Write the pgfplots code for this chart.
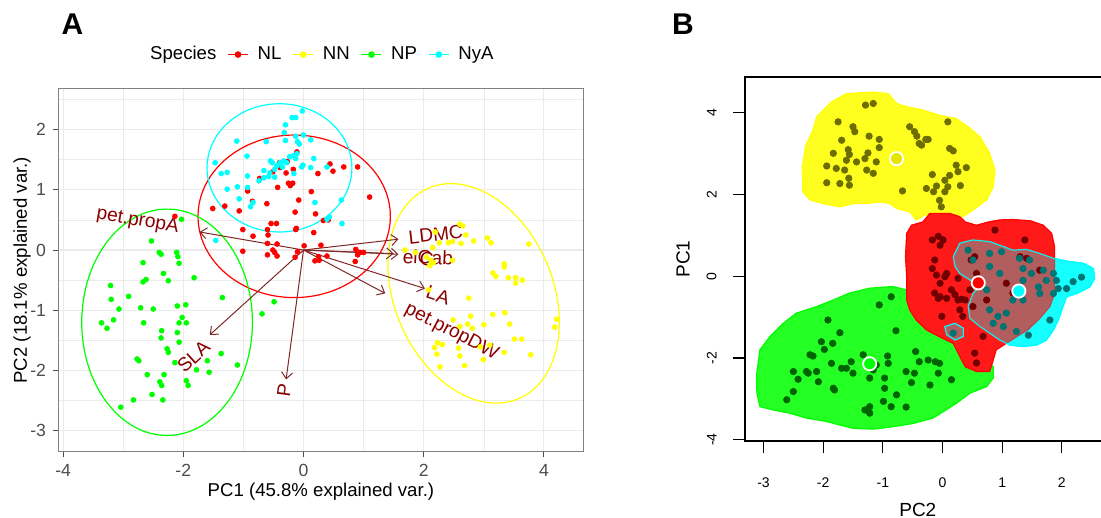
\documentclass[border=0pt]{standalone}
\usepackage{pgfplots}
\pgfplotsset{compat=1.18}
\usepackage{pgfplotstable}
\usepackage{fontspec}
\setmainfont{Liberation Sans}
\usetikzlibrary{arrows.meta}

\definecolor{arrowcol}{RGB}{128,40,40}
\definecolor{labcol}{RGB}{139,0,0}
\definecolor{cNL}{RGB}{255,0,0}
\definecolor{cNN}{RGB}{255,255,0}
\definecolor{cNP}{RGB}{0,255,0}
\definecolor{cNyA}{RGB}{0,255,255}
\definecolor{dNL}{RGB}{115,0,0}
\definecolor{dNN}{RGB}{110,110,0}
\definecolor{dNP}{RGB}{0,100,0}
\definecolor{dNyA}{RGB}{0,115,115}
\definecolor{gridcol}{RGB}{235,235,235}
\definecolor{tickcol}{RGB}{77,77,77}
\definecolor{framecol}{RGB}{128,128,128}

% ---------- Panel A data (PC1, PC2) ----------
\pgfplotstableread{
x y
0.44 1.43
0.49 1.31
0.67 1.38
0.90 1.38
1.10 0.88
0.24 1.27
0.13 0.97
-0.08 0.83
-0.14 0.63
0.20 0.60
0.17 0.29
-0.12 0.36
-0.13 0.34
-0.61 0.77
-0.93 0.98
-0.85 0.81
-1.07 0.65
-1.31 0.73
-1.51 0.69
-0.73 1.19
-0.51 1.30
-0.40 1.45
-0.27 1.47
-0.43 1.04
-0.25 1.11
-0.22 1.07
-0.18 1.11
-0.17 1.34
-0.39 1.37
-0.29 1.28
-0.11 1.63
-1.01 0.34
-0.84 0.23
-0.60 0.34
-0.59 0.25
-0.54 0.44
-0.45 0.44
0.33 0.49
0.41 0.50
-1.01 -0.02
-0.60 0.11
-0.44 0.10
-0.60 -0.08
-0.51 0.00
-0.48 -0.04
-0.44 -0.10
-0.10 -0.03
-0.14 -0.12
0.01 0.07
0.29 0.08
0.39 -0.10
0.25 -0.11
0.19 -0.18
0.26 -0.17
0.87 0.01
0.94 -0.04
1.00 -0.04
0.90 -0.08
0.86 -0.19
-2.14 0.56
}\NLtab

\pgfplotstableread{
x y
2.60 0.43
2.65 0.40
2.70 0.25
2.19 0.30
2.26 0.12
2.41 0.12
2.48 0.14
2.62 0.11
2.83 0.15
3.06 0.20
3.12 0.12
3.75 0.10
1.69 0.00
1.86 -0.04
2.15 0.04
2.05 -0.12
2.12 -0.17
2.16 -0.21
2.10 -0.26
2.48 -0.17
3.34 -0.23
3.34 -0.28
3.15 -0.38
3.20 -0.44
3.41 -0.46
3.53 -0.46
3.53 -0.55
3.64 -0.50
2.08 -0.66
2.75 -0.80
2.49 -1.16
2.78 -1.10
3.15 -1.07
3.35 -1.04
2.60 -1.27
2.73 -1.23
2.81 -1.30
3.00 -1.24
3.43 -1.23
4.21 -1.15
4.18 -1.28
2.23 -1.54
2.31 -1.57
2.18 -1.62
2.58 -1.63
2.94 -1.61
3.10 -1.58
3.51 -1.48
3.63 -1.48
2.22 -1.73
2.60 -1.76
2.99 -1.82
3.34 -1.70
3.78 -1.74
2.27 -1.94
2.68 -1.92
}\NNtab

\pgfplotstableread{
x y
-2.03 0.51
-2.53 0.15
-2.40 -0.04
-2.37 -0.07
-2.11 -0.04
-2.09 -0.11
-2.07 -0.22
-2.67 -0.21
-1.82 -0.46
-2.33 -0.39
-2.25 -0.51
-2.62 -0.49
-2.67 -0.53
-3.21 -0.59
-3.20 -0.82
-2.91 -0.77
-3.07 -0.98
-2.71 -0.96
-2.50 -0.98
-2.10 -0.93
-1.96 -0.91
-1.35 -0.79
-0.49 -0.86
-0.69 -1.06
-3.36 -1.21
-3.16 -1.16
-3.27 -1.30
-2.66 -1.21
-2.36 -1.34
-2.02 -1.12
-2.07 -1.21
-1.95 -1.21
-2.37 -1.46
-2.10 -1.37
-2.07 -1.53
-2.27 -1.64
-2.25 -1.70
-2.77 -1.81
-2.74 -1.84
-2.14 -1.87
-1.78 -1.99
-1.60 -1.84
-1.37 -1.72
-1.10 -1.91
-1.57 -2.03
-2.60 -2.07
-2.32 -2.07
-2.39 -2.19
-2.36 -2.25
-1.95 -2.17
-1.92 -2.25
-2.52 -2.40
-2.34 -2.49
-2.83 -2.49
-3.04 -2.61
}\NPtab

\pgfplotstableread{
x y
-0.02 2.31
-0.19 2.20
-0.13 2.20
-0.30 2.08
-0.32 1.95
-0.13 1.89
0.00 1.91
0.12 1.83
-0.30 1.82
-0.10 1.80
-0.07 1.76
-0.62 1.80
-1.11 1.81
-0.11 1.60
-0.16 1.57
-0.23 1.55
-0.13 1.52
-0.33 1.48
-0.28 1.45
-0.55 1.48
-0.52 1.45
-0.39 1.45
-0.44 1.40
-0.35 1.38
-0.48 1.34
-0.66 1.32
-0.58 1.22
-0.66 1.20
-0.48 1.21
-0.56 1.28
-0.74 1.15
-0.16 1.27
-0.01 1.41
-0.03 1.38
0.12 1.37
0.17 1.52
0.39 1.38
-1.47 1.45
-1.37 1.27
-1.27 1.29
-0.94 1.56
-0.93 1.23
-1.10 1.05
-1.27 1.01
-0.93 1.04
-1.07 0.85
-0.84 0.79
-0.88 0.72
0.19 0.79
0.63 0.83
0.43 0.55
0.39 0.51
0.64 0.44
-1.46 0.16
}\NyAtab

% ---------- Panel B data (PC2, PC1) ----------
\pgfplotstableread{
x y
-1.29 4.19
-1.16 4.23
-1.75 3.78
-1.50 3.66
-1.47 3.54
-1.69 3.33
-1.83 3.01
-1.94 2.70
-1.94 2.29
-1.78 2.64
-1.72 2.27
-1.64 2.60
-1.61 2.84
-1.58 3.10
-1.56 2.98
-1.57 2.40
-1.56 2.23
-1.44 2.80
-1.30 2.88
-1.25 3.02
-1.23 3.43
-1.06 3.35
-1.11 2.80
-1.06 3.15
-1.27 2.60
-1.16 2.52
-0.55 3.66
-0.47 3.54
-0.43 3.43
-0.39 3.25
-0.28 3.35
-0.24 3.35
0.09 3.78
0.12 3.13
0.18 3.07
0.23 2.72
0.26 2.56
0.40 2.66
-0.17 2.49
0.04 2.35
-0.10 2.21
-0.27 2.15
0.09 2.19
0.12 2.47
0.04 2.07
-0.05 1.86
-0.02 1.70
0.30 2.22
-0.67 2.09
-0.15 2.07
-0.35 3.21
}\NNb

\pgfplotstableread{
x y
-0.17 0.89
-0.07 0.98
0.01 0.89
-0.04 0.76
-0.13 0.40
-0.17 0.19
-0.10 0.03
-0.04 -0.17
0.04 -0.01
0.07 0.07
-0.13 -0.41
-0.04 -0.50
-0.07 -0.54
0.07 -0.54
0.15 -0.33
0.21 -0.45
0.26 -0.58
0.32 -0.56
0.38 -0.58
0.29 -0.82
-0.01 -0.98
0.34 -0.98
0.51 -0.74
0.46 -0.33
0.48 0.40
0.54 0.48
0.88 1.13
1.38 0.89
1.30 0.48
1.41 0.44
0.74 -0.58
1.07 -0.17
1.18 -0.41
1.63 0.15
0.68 -1.47
0.54 -1.88
0.57 -2.12
0.26 -0.05
0.57 0.07
}\NLb

\pgfplotstableread{
x y
-0.86 -0.50
-1.06 -0.70
-1.92 -1.07
-1.72 -1.38
-2.03 -1.60
-1.84 -1.64
-2.22 -1.92
-2.17 -1.95
-1.98 -1.79
-1.53 -2.09
-1.33 -1.92
-0.92 -1.95
-0.78 -1.33
-0.91 -2.13
-0.45 -1.84
-0.39 -2.09
-0.24 -2.05
-0.12 -2.09
-0.05 -2.13
-0.07 -2.37
-0.21 -2.66
0.15 -2.53
-0.52 -2.60
-1.11 -2.17
-1.16 -2.29
-1.22 -2.49
-0.97 -2.49
-0.97 -2.74
-0.77 -2.90
-0.86 -3.19
-0.61 -3.20
-1.22 -3.19
-1.30 -3.27
-1.22 -3.35
-0.99 -3.06
-1.50 -2.37
-1.61 -2.25
-1.69 -2.25
-1.86 -2.13
-2.11 -2.33
-2.28 -2.33
-2.25 -2.37
-2.50 -2.33
-2.42 -2.52
-2.50 -2.82
-2.61 -3.02
-1.83 -2.74
-1.81 -2.78
-2.08 -2.58
-0.61 -2.33
-0.47 -2.37
}\NPb

\pgfplotstableread{
x y
0.43 0.64
0.51 0.40
0.79 0.56
0.99 0.60
0.79 0.24
1.29 0.44
1.46 0.40
1.35 0.19
1.49 0.07
1.69 0.15
1.86 0.07
1.91 -0.10
1.74 -0.10
1.61 -0.26
1.94 -0.30
2.08 -0.30
2.19 -0.13
2.33 -0.02
1.86 -0.42
1.80 -1.07
1.44 -1.44
1.24 -1.35
1.07 -0.90
0.93 -0.98
0.79 -0.82
0.85 -1.15
1.02 -1.23
0.74 -0.33
1.18 -0.58
1.35 -0.58
0.18 -1.39
0.96 0.07
1.35 -0.10
1.63 -0.42
}\NyAb

\begin{document}
\begin{tikzpicture}[x=1pt,y=1pt]
% ================= Panel A =================
\begin{axis}[
  at={(29.15pt,33.15pt)}, anchor=south west,
  scale only axis, width=262.65pt, height=181.5pt,
  xmin=-4.08, xmax=4.66, ymin=-3.35, ymax=2.68,
  xtick={-4,-2,0,2,4}, ytick={-3,-2,-1,0,1,2},
  minor xtick={-3,-1,1,3}, minor ytick={-2.5,-1.5,-0.5,0.5,1.5,2.5},
  grid=both,
  major grid style={gridcol, line width=0.55pt},
  minor grid style={gridcol, line width=0.3pt},
  axis line style={framecol, line width=0.6pt},
  tick align=outside, tick pos=left,
  major tick length=2.6pt, minor tick length=0pt,
  every tick/.style={tickcol, line width=0.5pt},
  /pgf/number format/assume math mode=true,
  tick label style={text=tickcol, font=\fontsize{8.8}{10}\selectfont},
  xlabel={PC1 (45.8\% explained var.)},
  ylabel={PC2 (18.1\% explained var.)},
  label style={font=\fontsize{9.3}{11}\selectfont},
  xlabel style={at={(axis description cs:0.5,-0.111)}, anchor=center},
  ylabel style={at={(axis description cs:-0.0691,0.5)}, anchor=center},
  legend style={at={(axis description cs:0.497,1.094)}, anchor=center,
    draw=none, fill=none, legend columns=-1,
    font=\fontsize{9.3}{11}\selectfont,
    /tikz/every odd column/.append style={column sep=2.5pt},
    /tikz/every even column/.append style={column sep=3.5pt}},
  legend image code/.code={\draw[mark repeat=2,mark phase=2,#1] plot coordinates {(0pt,0pt) (5pt,0pt) (10pt,0pt)};},
]
\addlegendimage{empty legend}\addlegendentry{Species}
\addlegendimage{cNL, line width=0.7pt, mark=*, mark size=1.3pt}\addlegendentry{NL}
\addlegendimage{cNN, line width=0.7pt, mark=*, mark size=1.3pt}\addlegendentry{NN}
\addlegendimage{cNP, line width=0.7pt, mark=*, mark size=1.3pt}\addlegendentry{NP}
\addlegendimage{cNyA, line width=0.7pt, mark=*, mark size=1.3pt}\addlegendentry{NyA}

\addplot[only marks, mark=*, mark size=1.2pt, color=cNL, forget plot] table {\NLtab};
\addplot[only marks, mark=*, mark size=1.2pt, color=cNN, forget plot] table {\NNtab};
\addplot[only marks, mark=*, mark size=1.2pt, color=cNP, forget plot] table {\NPtab};
\addplot[only marks, mark=*, mark size=1.2pt, color=cNyA, forget plot] table {\NyAtab};

% ellipses
\draw[cNL, line width=0.6pt] (axis cs:-0.155,0.56) ellipse [x radius=1.60, y radius=1.35];
\draw[cNyA, line width=0.6pt] (axis cs:-0.40,1.365) ellipse [x radius=1.205, y radius=1.065];
\draw[cNP, line width=0.6pt] (axis cs:-2.27,-1.20) ellipse [x radius=1.42, y radius=1.88];
\draw[cNN, line width=0.6pt, rotate around={-66.7:(axis cs:2.83,-0.72)}] (axis cs:2.83,-0.72) ellipse [x radius=1.905, y radius=1.316];

% arrows
\addplot[arrowcol, line width=0.5pt, -{Straight Barb[length=3.2pt,width=5.5pt]}, forget plot] coordinates {(0,0) (-1.73,0.30)};
\addplot[arrowcol, line width=0.5pt, -{Straight Barb[length=3.2pt,width=5.5pt]}, forget plot] coordinates {(0,0) (1.58,0.18)};
\addplot[arrowcol, line width=0.5pt, -{Straight Barb[length=3.2pt,width=5.5pt]}, forget plot] coordinates {(0,0) (1.58,-0.07)};
\addplot[arrowcol, line width=0.5pt, -{Straight Barb[length=3.2pt,width=5.5pt]}, forget plot] coordinates {(0,0) (1.50,-0.06)};
\addplot[arrowcol, line width=0.5pt, -{Straight Barb[length=3.2pt,width=5.5pt]}, forget plot] coordinates {(0,0) (2.02,-0.64)};
\addplot[arrowcol, line width=0.5pt, -{Straight Barb[length=3.2pt,width=5.5pt]}, forget plot] coordinates {(0,0) (1.36,-0.72)};
\addplot[arrowcol, line width=0.5pt, -{Straight Barb[length=3.2pt,width=5.5pt]}, forget plot] coordinates {(0,0) (-1.56,-1.41)};
\addplot[arrowcol, line width=0.5pt, -{Straight Barb[length=3.2pt,width=5.5pt]}, forget plot] coordinates {(0,0) (-0.29,-2.15)};

% arrow labels
\tikzset{vlab/.style={text=labcol, font=\fontsize{9.6}{11}\selectfont, inner sep=0pt}}
\node[vlab, rotate=-9.8] at (axis cs:-2.76,0.48) {pet.propA};
\node[vlab, rotate=6.5] at (axis cs:2.20,0.26) {LDMC};
\node[vlab, rotate=-2.5] at (axis cs:2.07,-0.12) {elCab};
\node[vlab, rotate=-2.3] at (axis cs:2.05,-0.15) {C};
\node[vlab, rotate=-17.5] at (axis cs:2.24,-0.75) {LA};
\node[vlab, rotate=-27.7] at (axis cs:2.46,-1.36) {pet.propDW};
\node[vlab, rotate=42.5] at (axis cs:-1.83,-1.77) {SLA};
\node[vlab, rotate=82.4] at (axis cs:-0.32,-2.33) {P};
\end{axis}

% ================= Panel B =================
\begin{axis}[
  at={(372.5pt,38.5pt)}, anchor=south west,
  scale only axis, width=180.77pt, height=181.85pt,
  xmin=-3.31, xmax=2.75, ymin=-4.03, ymax=4.87,
  xtick={-3,-2,-1,0,1,2}, ytick={-4,-2,0,2,4},
  axis line style={black, line width=0.9pt},
  tick align=outside, tick pos=left,
  major tick length=5.85pt,
  every tick/.style={black, line width=0.6pt},
  /pgf/number format/assume math mode=true,
  tick label style={font=\fontsize{7}{8}\selectfont, inner sep=0pt},
  xticklabel style={anchor=north},
  yticklabel style={rotate=90, anchor=south},
  xticklabel shift=12.4pt, yticklabel shift=8.2pt,
  xlabel={PC2}, ylabel={PC1},
  label style={font=\fontsize{9.5}{11}\selectfont},
  xlabel style={at={(axis description cs:0.478,-0.1897)}, anchor=center},
  ylabel style={at={(axis description cs:-0.1715,0.5)}, anchor=center},
]
% blobs
\addplot[fill=cNP!86!white, draw=cNP, line width=0.6pt, forget plot] coordinates {
(-3.09,-2.13) (-3.06,-1.80) (-2.89,-1.47) (-2.67,-1.15) (-2.45,-0.90) (-2.11,-0.74) (-1.83,-0.58) (-1.56,-0.41) (-1.22,-0.29) (-0.83,-0.25) (-0.61,-0.33) (-0.44,-0.50) (-0.35,-0.66) (-0.44,-0.90) (-0.21,-1.15) (-0.10,-1.31) (0.12,-1.52) (0.29,-1.64) (0.40,-1.80) (0.63,-1.96) (0.85,-2.21) (0.85,-2.49) (0.74,-2.70) (0.46,-2.86) (0.23,-3.11) (0.06,-3.27) (-0.16,-3.47) (-0.49,-3.60) (-0.83,-3.68) (-1.16,-3.74) (-1.50,-3.72) (-1.72,-3.64) (-1.95,-3.55) (-2.28,-3.47) (-2.56,-3.35) (-2.84,-3.27) (-3.06,-3.19) (-3.11,-2.86) (-3.12,-2.45)
} -- cycle;
\addplot[fill=cNN!88!white, draw=cNN, line width=0.6pt, forget plot] coordinates {
(-2.34,2.07) (-2.35,2.68) (-2.29,3.21) (-2.17,3.58) (-2.11,3.90) (-1.86,4.27) (-1.61,4.47) (-1.16,4.51) (-0.91,4.47) (-0.77,4.23) (-0.60,4.15) (-0.33,4.07) (-0.05,3.94) (0.23,3.86) (0.43,3.66) (0.63,3.41) (0.79,3.01) (0.88,2.60) (0.85,2.19) (0.74,1.87) (0.51,1.62) (0.34,1.46) (0.23,1.42) (-0.05,1.50) (-0.30,1.50) (-0.44,1.38) (-0.55,1.58) (-0.77,1.66) (-0.88,1.78) (-1.05,1.82) (-1.27,1.78) (-1.50,1.78) (-1.72,1.70) (-2.00,1.78) (-2.22,1.87)
} -- cycle;
\addplot[fill=cNyA!88!white, draw=cNyA, line width=0.6pt, forget plot] coordinates {
(0.18,0.48) (0.29,0.81) (0.51,0.89) (0.79,0.85) (1.02,0.73) (1.18,0.64) (1.41,0.66) (1.63,0.56) (1.86,0.44) (2.13,0.36) (2.36,0.32) (2.53,0.19) (2.55,-0.05) (2.47,-0.26) (2.25,-0.42) (2.08,-0.50) (2.02,-0.74) (1.94,-1.07) (1.86,-1.31) (1.74,-1.56) (1.58,-1.68) (1.35,-1.72) (1.13,-1.68) (0.96,-1.56) (0.79,-1.39) (0.63,-1.23) (0.46,-1.03) (0.43,-0.74) (0.51,-0.42) (0.63,-0.25) (0.46,-0.09) (0.29,0.07) (0.21,0.24)
} -- cycle;
\addplot[fill=cNL!90!white, draw=cNL, line width=0.6pt, forget plot] coordinates {
(-0.60,1.05) (-0.52,1.25) (-0.33,1.33) (-0.21,1.54) (0.12,1.54) (0.29,1.46) (0.38,1.33) (0.57,1.25) (0.77,1.33) (0.96,1.38) (1.18,1.39) (1.47,1.36) (1.69,1.25) (1.83,1.05) (1.88,0.72) (1.88,0.24) (1.88,-0.42) (1.80,-0.74) (1.63,-1.03) (1.43,-1.31) (1.24,-1.48) (1.07,-1.64) (0.90,-1.80) (0.85,-2.05) (0.79,-2.33) (0.57,-2.33) (0.38,-2.21) (0.29,-1.96) (0.18,-1.64) (-0.05,-1.48) (-0.27,-1.31) (-0.44,-1.07) (-0.55,-0.82) (-0.60,-0.58) (-0.60,-0.01) (-0.62,0.48)
} -- cycle;
\addplot[fill=cNyA, fill opacity=0.3, draw=cNyA, draw opacity=0.9, line width=0.6pt, forget plot] coordinates {
(0.18,0.48) (0.29,0.81) (0.51,0.89) (0.79,0.85) (1.02,0.73) (1.18,0.64) (1.41,0.66) (1.63,0.56) (1.86,0.44) (2.13,0.36) (2.36,0.32) (2.53,0.19) (2.55,-0.05) (2.47,-0.26) (2.25,-0.42) (2.08,-0.50) (2.02,-0.74) (1.94,-1.07) (1.86,-1.31) (1.74,-1.56) (1.58,-1.68) (1.35,-1.72) (1.13,-1.68) (0.96,-1.56) (0.79,-1.39) (0.63,-1.23) (0.46,-1.03) (0.43,-0.74) (0.51,-0.42) (0.63,-0.25) (0.46,-0.09) (0.29,0.07) (0.21,0.24)
} -- cycle;
\addplot[fill=cNyA, fill opacity=0.3, draw=cNyA, line width=0.6pt, forget plot] coordinates {
(0.04,-1.23) (0.21,-1.15) (0.35,-1.27) (0.35,-1.47) (0.21,-1.56) (0.07,-1.43)
} -- cycle;

% observed points
\addplot[only marks, mark=*, mark size=1.6pt, color=dNN, forget plot] table {\NNb};
\addplot[only marks, mark=*, mark size=1.6pt, color=dNP, forget plot] table {\NPb};
\addplot[only marks, mark=*, mark size=1.6pt, color=dNL, forget plot] table {\NLb};
\addplot[only marks, mark=*, mark size=1.6pt, color=dNyA, forget plot] table {\NyAb};

% centroids
\addplot[only marks, mark=*, mark size=3.3pt, mark options={fill=cNN!90!black, draw=white, line width=0.9pt}, forget plot] coordinates {(-0.77,2.88)};
\addplot[only marks, mark=*, mark size=3.3pt, mark options={fill=cNL, draw=white, line width=0.9pt}, forget plot] coordinates {(0.60,-0.16)};
\addplot[only marks, mark=*, mark size=3.3pt, mark options={fill=cNyA, draw=white, line width=0.9pt}, forget plot] coordinates {(1.28,-0.36)};
\addplot[only marks, mark=*, mark size=3.3pt, mark options={fill=cNP, draw=white, line width=0.9pt}, forget plot] coordinates {(-1.22,-2.14)};
\end{axis}

% panel letters
\node[font=\fontsize{15}{17}\bfseries\selectfont, inner sep=0pt] at (36.2,247) {A};
\node[font=\fontsize{15}{17}\bfseries\selectfont, inner sep=0pt] at (341.5,247) {B};

\pgfresetboundingbox
\useasboundingbox (0,0) rectangle (550.5,259);
\end{tikzpicture}
\end{document}
